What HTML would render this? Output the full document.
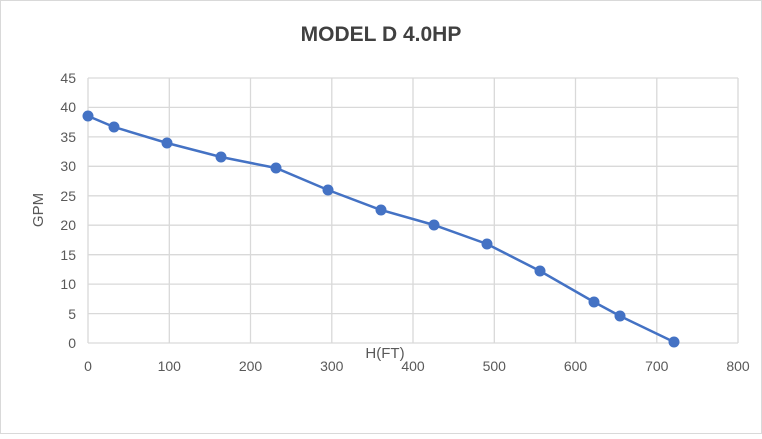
<!DOCTYPE html>
<html><head><style>body{margin:0;background:#fff}</style></head><body>
<svg width="762" height="434" xmlns="http://www.w3.org/2000/svg" font-family="Liberation Sans, sans-serif">
<rect x="0.5" y="0.5" width="761" height="433" fill="#fff" stroke="#d9d9d9"/>
<text x="381" y="41" text-anchor="middle" font-size="21" font-weight="bold" fill="#404040">MODEL D 4.0HP</text>
<g stroke="#d9d9d9" stroke-width="1.3">
<line x1="88" y1="78" x2="738" y2="78"/><line x1="88" y1="107.4" x2="738" y2="107.4"/><line x1="88" y1="136.9" x2="738" y2="136.9"/><line x1="88" y1="166.3" x2="738" y2="166.3"/><line x1="88" y1="195.8" x2="738" y2="195.8"/><line x1="88" y1="225.2" x2="738" y2="225.2"/><line x1="88" y1="254.7" x2="738" y2="254.7"/><line x1="88" y1="284.1" x2="738" y2="284.1"/><line x1="88" y1="313.6" x2="738" y2="313.6"/><line x1="88" y1="343" x2="738" y2="343"/>
<line x1="88" y1="78" x2="88" y2="343"/><line x1="169.3" y1="78" x2="169.3" y2="343"/><line x1="250.5" y1="78" x2="250.5" y2="343"/><line x1="331.8" y1="78" x2="331.8" y2="343"/><line x1="413" y1="78" x2="413" y2="343"/><line x1="494.3" y1="78" x2="494.3" y2="343"/><line x1="575.5" y1="78" x2="575.5" y2="343"/><line x1="656.8" y1="78" x2="656.8" y2="343"/><line x1="738" y1="78" x2="738" y2="343"/>
</g>
<g font-size="14" fill="#595959" text-anchor="end">
<text x="76" y="83">45</text><text x="76" y="112">40</text><text x="76" y="142">35</text><text x="76" y="171">30</text><text x="76" y="201">25</text><text x="76" y="230">20</text><text x="76" y="260">15</text><text x="76" y="289">10</text><text x="76" y="319">5</text><text x="76" y="348">0</text>
</g>
<g font-size="14" fill="#595959" text-anchor="middle">
<text x="88" y="371">0</text><text x="169.3" y="371">100</text><text x="250.5" y="371">200</text><text x="331.8" y="371">300</text><text x="413" y="371">400</text><text x="494.3" y="371">500</text><text x="575.5" y="371">600</text><text x="656.8" y="371">700</text><text x="738" y="371">800</text>
</g>
<text x="385" y="358" font-size="15" fill="#595959" text-anchor="middle">H(FT)</text>
<text transform="translate(43,210) rotate(-90)" font-size="15" fill="#595959" text-anchor="middle">GPM</text>
<polyline fill="none" stroke="#4472c4" stroke-width="2.5" points="88,116 114,127 167,143 221,157 276,168 328,190 381,210 434,225 487,244 540,271 594,302 620,316 674,342"/>
<g fill="#4472c4">
<circle cx="88" cy="116" r="5.5"/><circle cx="114" cy="127" r="5.5"/><circle cx="167" cy="143" r="5.5"/><circle cx="221" cy="157" r="5.5"/><circle cx="276" cy="168" r="5.5"/><circle cx="328" cy="190" r="5.5"/><circle cx="381" cy="210" r="5.5"/><circle cx="434" cy="225" r="5.5"/><circle cx="487" cy="244" r="5.5"/><circle cx="540" cy="271" r="5.5"/><circle cx="594" cy="302" r="5.5"/><circle cx="620" cy="316" r="5.5"/><circle cx="674" cy="342" r="5.5"/>
</g>
</svg>
</body></html>
